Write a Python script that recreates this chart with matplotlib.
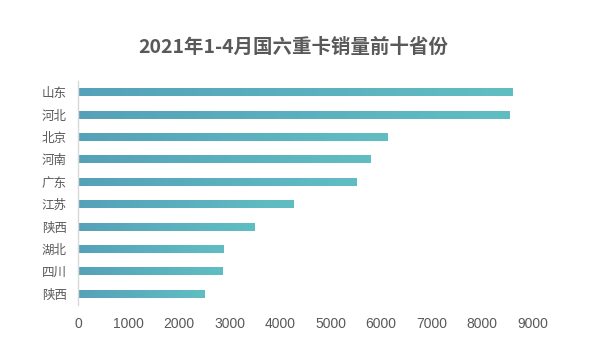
import matplotlib
matplotlib.use("Agg")
import matplotlib.pyplot as plt
import numpy as np
from matplotlib.colors import LinearSegmentedColormap

plt.rcParams['font.family'] = ['Noto Sans CJK SC', 'DejaVu Sans']

provinces = ["山东", "河北", "北京", "河南", "广东", "江苏", "陕西", "湖北", "四川", "陕西"]
sales = [8590, 8530, 6120, 5780, 5520, 4260, 3490, 2870, 2850, 2510]
xticks = [0, 1000, 2000, 3000, 4000, 5000, 6000, 7000, 8000, 9000]
title = "2021年1-4月国六重卡销量前十省份"

fig = plt.figure(figsize=(6, 3.6), dpi=100)
ax = fig.add_axes([0.13, 0.153, 0.758, 0.622])

cmap = LinearSegmentedColormap.from_list("g", ["#55a1b9", "#60bec3"])
ypos = np.arange(len(provinces))
bars = ax.barh(ypos, sales, height=0.36, color="none", edgecolor="none")
grad = np.linspace(0, 1, 256).reshape(1, -1)
for b in bars:
    x0, y0 = b.get_x(), b.get_y()
    w, h = b.get_width(), b.get_height()
    im = ax.imshow(grad, cmap=cmap, aspect="auto", extent=[x0, x0 + w, y0, y0 + h],
                   origin="lower", zorder=2)
    im.set_clip_path(b)

ax.set_xlim(0, 9000)
ax.set_ylim(len(provinces) - 0.5, -0.5)
ax.set_yticks(ypos)
ax.set_yticklabels(provinces)
ax.set_xticks(xticks)
ax.set_xticklabels([str(t) for t in xticks], family=['Liberation Sans', 'DejaVu Sans'])
ax.tick_params(axis="both", length=0, labelsize=9, colors="#595959")
ax.tick_params(axis="x", pad=9, labelsize=10)
ax.tick_params(axis="y", pad=8)
for s in ["top", "right", "bottom"]:
    ax.spines[s].set_visible(False)
ax.spines["left"].set_color("#d9d9d9")
ax.spines["left"].set_linewidth(1)

fig.text(0.488, 0.868, title, ha="center", va="center", fontsize=14,
         fontweight="bold", color="#595959")

fig.savefig("out.png", dpi=100, facecolor="white")
